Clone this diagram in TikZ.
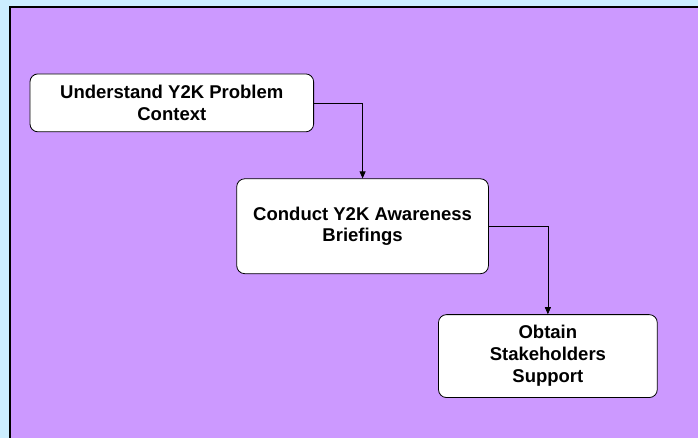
\documentclass[tikz,border=0pt]{standalone}
\usepackage{fontspec}
\setmainfont{Liberation Sans}
\usetikzlibrary{arrows.meta}
\definecolor{skyband}{HTML}{CCEEFF}
\definecolor{lilac}{HTML}{CC99FF}
\tikzset{
  stepbox/.style={draw=black, fill=white, rounded corners=8bp, line width=0.8bp,
    align=center, font=\fontsize{18.6}{22}\selectfont\bfseries, inner sep=0pt},
  flow/.style={draw=black, line width=0.7bp, -{Triangle[length=7bp,width=6bp]}}
}
\begin{document}
\begin{tikzpicture}[x=1bp, y=-1bp]
  % page and panel
  \fill[skyband] (0,0) rectangle (699,438);
  \fill[lilac] (10,7) rectangle (699,438);
  \draw[black, line width=1.6bp] (10,438) -- (10,7) -- (699,7);
  % process steps
  \node[stepbox, minimum width=284bp, minimum height=58bp] (s1) at (172,103)
    {Understand Y2K Problem\\Context};
  \node[stepbox, minimum width=252bp, minimum height=95bp] (s2) at (363,226.5)
    {Conduct Y2K Awareness\\Briefings};
  \node[stepbox, minimum width=219bp, minimum height=83bp] (s3) at (548.5,356.5)
    {Obtain\\Stakeholders\\Support};
  % connectors
  \draw[flow] (s1.east) -| (s2.north);
  \draw[flow] (s2.east) -| (s3.north);
\end{tikzpicture}
\end{document}
